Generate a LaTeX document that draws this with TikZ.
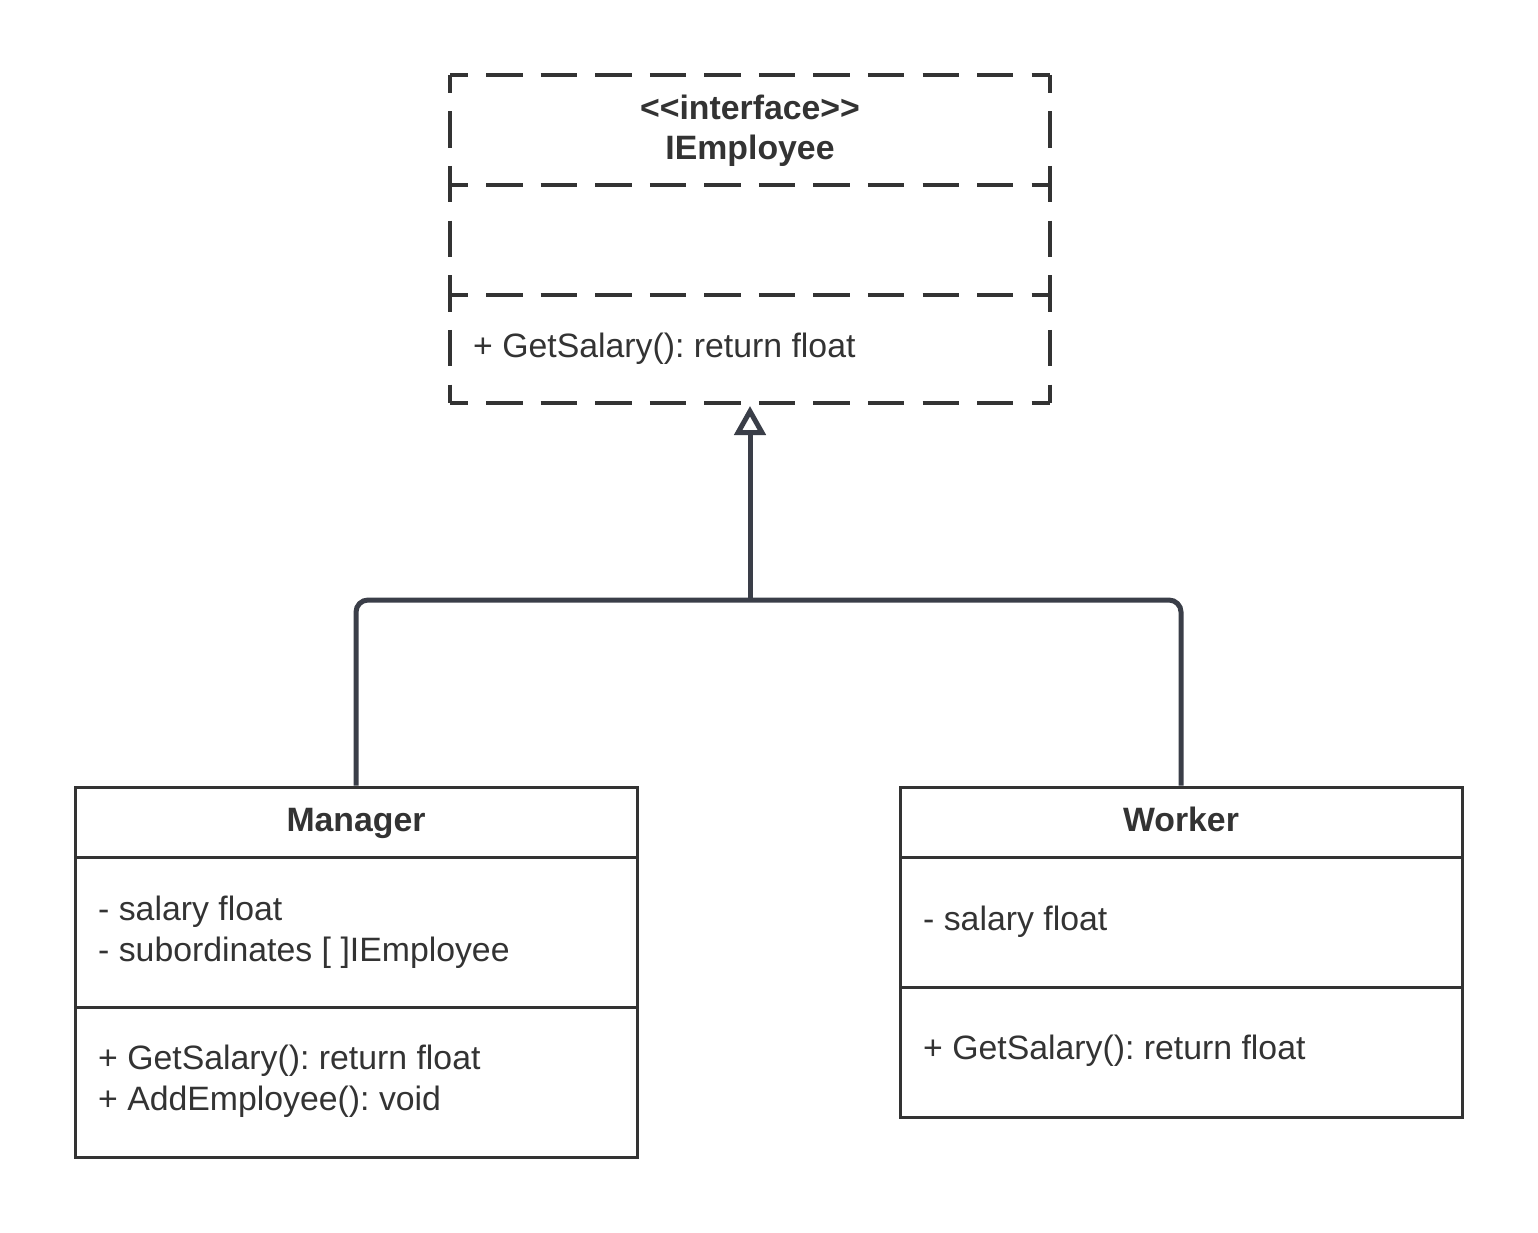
\documentclass[tikz,border=0pt]{standalone}
\usepackage{fontspec}
\setmainfont{Liberation Sans}
\usetikzlibrary{arrows.meta}
\definecolor{ink}{HTML}{333333}
\definecolor{conn}{HTML}{3A3E48}
\tikzset{
  cls/.style={draw=ink, line width=3pt, rectangle, inner sep=0pt, minimum width=562pt},
  ghost/.style={draw=none, rectangle, inner sep=0pt, minimum width=600pt},
  dshh/.style={draw=ink, line width=3.5pt, dash pattern=on 36.4pt off 18.145pt, dash phase=18.2pt},
  dshv/.style={draw=ink, line width=3.5pt, dash pattern=on 36.6pt off 18.07pt, dash phase=18.3pt},
  txt/.style={text=ink, font=\frenchspacing\fontsize{33.8}{40.5}\selectfont, inner sep=0pt, align=left},
  ttl/.style={text=ink, font=\frenchspacing\fontsize{33.8}{40.5}\selectfont\bfseries, inner sep=0pt, align=center},
  link/.style={draw=conn, line width=5pt, rounded corners=12pt},
}
\begin{document}
\begin{tikzpicture}[x=1pt,y=-1pt]
\useasboundingbox (0,0) rectangle (1538,1232);
% interface
\node[ghost, minimum height=110pt] (ieT) at (750,130) {};
\node[ghost, minimum height=110pt] (ieA) at (750,240) {};
\node[ghost, minimum height=108pt] (ieM) at (750,349) {};
\draw[dshh] (ieT.north west) -- (ieT.north east);
\draw[dshh] (ieT.south west) -- (ieT.south east);
\draw[dshh] (ieA.south west) -- (ieA.south east);
\draw[dshh] (ieM.south west) -- (ieM.south east);
\draw[dshv] (ieT.north west) -- (ieM.south west);
\draw[dshv] (ieT.north east) -- (ieM.south east);
\node[ttl] (ieName) at (750,131) {<\kern0pt<interface>\kern0pt>\\IEmployee};
\node[txt, anchor=west] (ieOp) at (473,349) {+ GetSalary(): return float};
% manager
\node[cls, minimum height=70pt] (mgrT) at (356,822) {};
\node[cls, minimum height=150pt] (mgrA) at (356,932) {};
\node[cls, minimum height=150pt] (mgrM) at (356,1082) {};
\node[ttl, anchor=base] (mgrName) at (356,831) {Manager};
\node[txt, anchor=west] (mgrAt) at (98,932) {- salary float\\- subordinates [ ]IEmployee};
\node[txt, anchor=west] (mgrOp) at (98,1081) {+ GetSalary(): return float\\+ AddEmployee(): void};
% worker
\node[cls, minimum height=70pt] (wrkT) at (1181,822) {};
\node[cls, minimum height=130pt] (wrkA) at (1181,922) {};
\node[cls, minimum height=130pt] (wrkM) at (1181,1052) {};
\node[ttl, anchor=base] (wrkName) at (1181,831) {Worker};
\node[txt, anchor=west] (wrkAt) at (923,922) {- salary float};
\node[txt, anchor=west] (wrkOp) at (923,1051) {+ GetSalary(): return float};
% connectors
\coordinate (j) at (750,600);
\coordinate (tip) at (750,406);
\draw[link] (mgrT.north) |- (j) -| (wrkT.north);
\draw[link, -{Triangle[open, length=29pt, width=31pt, line join=miter]}] (j) -- (tip);
\end{tikzpicture}
\end{document}
